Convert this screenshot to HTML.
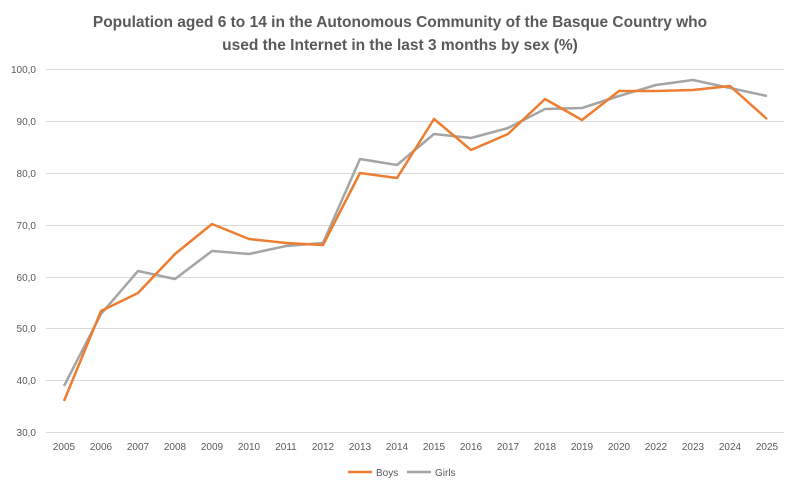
<!DOCTYPE html>
<html><head><meta charset="utf-8"><style>
html,body{margin:0;padding:0;background:#fff;}
svg{display:block;font-family:"Liberation Sans",sans-serif;}
</style></head><body>
<svg width="800" height="491" viewBox="0 0 800 491" xmlns="http://www.w3.org/2000/svg">
<rect width="800" height="491" fill="#fff"/>
<text x="400" y="27" text-anchor="middle" font-size="15.5" font-weight="bold" fill="#595959">Population aged 6 to 14 in the Autonomous Community of the Basque Country who</text>
<text x="400" y="50" text-anchor="middle" font-size="15.5" font-weight="bold" fill="#595959">used the Internet in the last 3 months by sex (%)</text>
<g stroke="#d9d9d9" stroke-width="1">
<line x1="46" x2="784" y1="69.5" y2="69.5"/>
<line x1="46" x2="784" y1="121.5" y2="121.5"/>
<line x1="46" x2="784" y1="173.5" y2="173.5"/>
<line x1="46" x2="784" y1="225.5" y2="225.5"/>
<line x1="46" x2="784" y1="277.5" y2="277.5"/>
<line x1="46" x2="784" y1="328.5" y2="328.5"/>
<line x1="46" x2="784" y1="380.5" y2="380.5"/>
<line x1="46" x2="784" y1="432.5" y2="432.5"/>
</g>
<g font-size="10" fill="#595959" text-anchor="end">
<text x="36" y="73">100,0</text><text x="36" y="125">90,0</text><text x="36" y="177">80,0</text>
<text x="36" y="229">70,0</text><text x="36" y="281">60,0</text><text x="36" y="332">50,0</text>
<text x="36" y="384">40,0</text><text x="36" y="436">30,0</text>
</g>
<g font-size="10" fill="#595959" text-anchor="middle">
<text x="64" y="450">2005</text><text x="101" y="450">2006</text><text x="138" y="450">2007</text>
<text x="175" y="450">2008</text><text x="212" y="450">2009</text><text x="249" y="450">2010</text>
<text x="286" y="450">2011</text><text x="323" y="450">2012</text><text x="360" y="450">2013</text>
<text x="397" y="450">2014</text><text x="434" y="450">2015</text><text x="471" y="450">2016</text>
<text x="508" y="450">2017</text><text x="545" y="450">2018</text><text x="582" y="450">2019</text>
<text x="619" y="450">2020</text><text x="656" y="450">2022</text><text x="693" y="450">2023</text>
<text x="730" y="450">2024</text><text x="767" y="450">2025</text>
</g>
<polyline fill="none" stroke="#a5a5a5" stroke-width="2.5" stroke-linejoin="round"
points="64,386 101,314 138,271 175,279 212,251 249,254 286,246 323,243 360,159 397,165 434,134 471,138 508,128 545,109 582,108 619,96 656,85 693,80 730,88 767,96"/>
<polyline fill="none" stroke="#ed7d31" stroke-width="2.5" stroke-linejoin="round"
points="64,401 101,311 138,293 175,254 212,224 249,239 286,243 323,245 360,173 397,178 434,119 471,150 508,134 545,99 582,120 619,91 656,91 693,90 730,86 767,119"/>
<line x1="348" x2="372" y1="472" y2="472" stroke="#ed7d31" stroke-width="2.5"/>
<text x="376" y="476" font-size="10" fill="#595959">Boys</text>
<line x1="407" x2="431" y1="472" y2="472" stroke="#a5a5a5" stroke-width="2.5"/>
<text x="435" y="476" font-size="10" fill="#595959">Girls</text>
</svg>
</body></html>
